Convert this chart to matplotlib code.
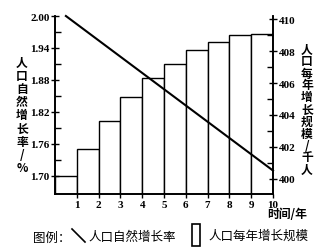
import matplotlib
matplotlib.use("Agg")
import matplotlib.pyplot as plt
from matplotlib.lines import Line2D
from matplotlib.patches import Rectangle

plt.rcParams['font.family'] = ['Noto Sans CJK SC', 'DejaVu Sans']

# data
years = [1, 2, 3, 4, 5, 6, 7, 8, 9, 10]
growth_scale = [400.2, 401.9, 403.6, 405.1, 406.3, 407.2, 408.1, 408.6, 409.0, 409.1]
rate_x = [0.5, 10]
rate = [2.00, 1.71]
left_ticks = [1.70, 1.76, 1.82, 1.88, 1.94, 2.00]
left_labels = ["1.70", "1.76", "1.82", "1.88", "1.94", "2.00"]
right_ticks = [400, 402, 404, 406, 408, 410]
left_label = "人口自然增长率/%"
right_label = "人口每年增长规模/千人"
x_label = "时间/年"
legend_title = "图例："
legend_line = "人口自然增长率"
legend_bar = "人口每年增长规模"

W, H = 326, 251
fig = plt.figure(figsize=(W / 100, H / 100), dpi=100)
ax = fig.add_axes([55 / W, 1 - 195 / H, (273 - 55) / W, (195 - 17) / H])
ax2 = ax.twinx()
ax.set_zorder(ax2.get_zorder() + 1)
ax.patch.set_visible(False)

serif = dict(family='Liberation Serif', fontweight='bold', fontsize=8)

# bars on right axis
ax2.bar([y - 0.5 for y in years], growth_scale, width=1.0, bottom=0,
        facecolor='white', edgecolor='black', linewidth=1.0)
ax2.set_ylim(399.05, 410.2)
ax2.set_yticks(right_ticks)
ax2.set_yticklabels([str(t) for t in right_ticks], **serif)
ax2.set_yticks([401, 403, 405, 407, 409], minor=True)
ax2.tick_params(axis='y', which='major', direction='inout', length=6, width=1, pad=1)
ax2.tick_params(axis='y', which='minor', direction='in', length=4, width=1)

# line on left axis
ax.plot(rate_x, rate, color='black', linewidth=1.5, clip_on=False)
ax.set_xlim(0, 10)
ax.set_ylim(1.666, 2.0)
ax.set_yticks(left_ticks)
ax.set_yticklabels(left_labels, **serif)
ax.set_yticks([1.73, 1.79, 1.85, 1.91, 1.97], minor=True)
ax.tick_params(axis='y', which='major', direction='inout', length=6, width=1, pad=1)
ax.tick_params(axis='y', which='minor', direction='in', length=4, width=1)
ax.set_xticks(years)
ax.set_xticklabels([str(y) for y in years], **serif)
ax.tick_params(axis='x', direction='out', length=3, width=1, pad=1)

for a in (ax, ax2):
    a.spines['top'].set_visible(False)
    for s in ('left', 'right', 'bottom'):
        a.spines[s].set_linewidth(1.2)
ax2.tick_params(axis='x', which='both', bottom=False, labelbottom=False)

# axis labels (vertical stacked)
fig.text(22 / W, 1 - 116 / H, "\n".join(left_label), ha='center', va='center',
         fontsize=8.5, fontweight='bold', linespacing=1.02)
fig.text(307 / W, 1 - 110 / H, "\n".join(right_label), ha='center', va='center',
         fontsize=8.5, fontweight='bold', linespacing=0.9)
fig.text(287 / W, 1 - 215 / H, x_label, ha='center', va='center',
         fontsize=8.5, fontweight='bold')

# legend
fig.text(33 / W, 1 - 238 / H, legend_title, ha='left', va='center', fontsize=9)
fig.add_artist(Line2D([72 / W, 85 / W], [1 - 230 / H, 1 - 243 / H],
                      color='black', linewidth=1.2, transform=fig.transFigure))
fig.text(88 / W, 1 - 238 / H, legend_line, ha='left', va='center', fontsize=9)
fig.add_artist(Rectangle((192 / W, 1 - 247 / H), 8 / W, 22 / H, facecolor='white',
                         edgecolor='black', linewidth=1.2, transform=fig.transFigure))
fig.text(208 / W, 1 - 236 / H, legend_bar, ha='left', va='center', fontsize=9)

fig.savefig("out.png", dpi=100)
